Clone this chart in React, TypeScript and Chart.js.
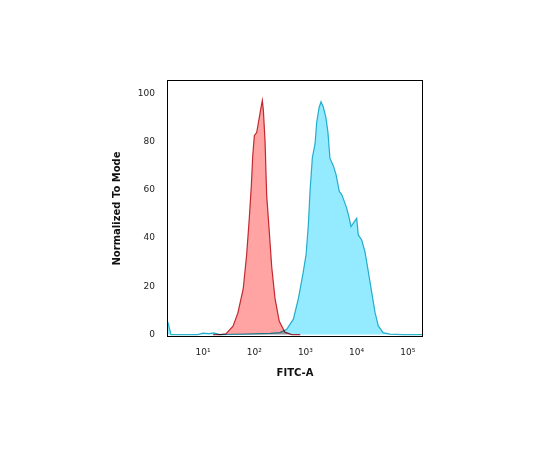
import React, { useEffect, useRef } from "react";
import { Chart, registerables } from "chart.js";

Chart.register(...registerables);

// Isotype control (red) histogram: FITC-A intensity vs normalized count
const redX = [15.8, 21.5, 28, 38.5, 48, 61, 71, 80, 88, 93.5, 100.5, 112, 121, 133, 144, 151, 163, 175, 195, 220, 255, 309, 398, 537, 794];
const redY = [0, 0, 0.3, 3.5, 9, 19, 33, 48, 62, 74, 82.4, 83.8, 88, 93, 97, 93, 80, 58, 44, 28, 15, 5.5, 1, 0, 0];

// Antibody-stained (blue) histogram
const blueX = [1.9, 2.07, 2.37, 7.9, 10, 13.1, 16.4, 21.4, 66, 204, 316, 431, 581, 726, 885, 1028, 1140, 1230, 1365, 1540, 1660, 1845, 2018, 2239, 2512, 2754, 3020, 3508, 3963, 4592, 5117, 5754, 6412, 7194, 7762, 8630, 10046, 10790, 12590, 14590, 16980, 19720, 22910, 26550, 33110, 44670, 80540, 199500];
const blueY = [6, 5, 0, 0, 0.6, 0.4, 0.7, 0, 0.2, 0.5, 0.8, 2.2, 6.4, 14.8, 24.6, 33, 45.5, 59.4, 73.4, 79, 88, 94, 96.5, 94.3, 90, 84, 73, 70, 66.4, 59.4, 58, 55.2, 52.4, 48.2, 44.8, 46.2, 48.2, 41.3, 39.2, 34.3, 26, 17.6, 9.2, 3.6, 0.8, 0.2, 0, 0];

const xTicks = [10, 100, 1000, 10000, 100000];
const xTickLabels = ["10\u00B9", "10\u00B2", "10\u00B3", "10\u2074", "10\u2075"];
const yTicks = [0, 20, 40, 60, 80, 100];

const xTitle = "FITC-A";
const yTitle = "Normalized To Mode";

const framePlugin = {
  id: "frame",
  afterDraw(chart: any) {
    const { ctx, chartArea } = chart;
    ctx.save();
    ctx.strokeStyle = "#000";
    ctx.lineWidth = 1;
    ctx.strokeRect(
      chartArea.left + 0.5,
      chartArea.top + 0.5,
      chartArea.right - chartArea.left - 1,
      chartArea.bottom - chartArea.top - 1
    );
    ctx.restore();
  },
};

const blendPlugin = {
  id: "blend",
  beforeDatasetsDraw(chart: any) {
    chart.ctx.save();
    chart.ctx.globalCompositeOperation = "multiply";
  },
  afterDatasetsDraw(chart: any) {
    chart.ctx.restore();
  },
};

export default function App() {
  const ref = useRef<HTMLCanvasElement | null>(null);

  useEffect(() => {
    if (!ref.current) return;
    const chart = new Chart(ref.current, {
      type: "line",
      data: {
        datasets: [
          {
            data: redX.map((x, i) => ({ x, y: redY[i] })),
            borderColor: "#C2303A",
            backgroundColor: "#FFA3A3",
            borderWidth: 1.2,
            fill: "origin",
            pointRadius: 0,
            tension: 0,
          },
          {
            data: blueX.map((x, i) => ({ x, y: blueY[i] })),
            borderColor: "#2CB4CC",
            backgroundColor: "#94EAFE",
            borderWidth: 1.2,
            fill: "origin",
            pointRadius: 0,
            tension: 0,
          },
        ],
      },
      options: {
        responsive: false,
        animation: false,
        devicePixelRatio: 1,
        layout: { autoPadding: false, padding: { left: 111, right: 117, top: 80, bottom: 71 } },
        plugins: { legend: { display: false }, tooltip: { enabled: false } },
        scales: {
          x: {
            type: "logarithmic",
            min: 1.98,
            max: 198000,
            grid: { display: false, drawTicks: false },
            border: { display: false },
            afterBuildTicks: (scale: any) => {
              scale.ticks = xTicks.map((v) => ({ value: v }));
            },
            afterFit: (scale: any) => {
              scale.height = 42;
            },
            ticks: {
              autoSkip: false,
              maxRotation: 0,
              padding: 10,
              color: "#222",
              font: { family: "DejaVu Sans", size: 9 },
              callback: (v: any) => {
                const i = xTicks.indexOf(Number(v));
                return i >= 0 ? xTickLabels[i] : "";
              },
            },
            title: {
              display: true,
              text: xTitle,
              color: "#111",
              padding: 0,
              font: { family: "DejaVu Sans", size: 10, weight: "bold" },
            },
          },
          y: {
            type: "linear",
            min: -1,
            max: 105.5,
            grid: { display: false, drawTicks: false },
            border: { display: false },
            afterBuildTicks: (scale: any) => {
              scale.ticks = yTicks.map((v) => ({ value: v }));
            },
            afterFit: (scale: any) => {
              scale.width = 56;
            },
            ticks: {
              padding: 12,
              color: "#222",
              font: { family: "DejaVu Sans", size: 9 },
            },
            title: {
              display: true,
              text: yTitle,
              color: "#111",
              padding: 0,
              font: { family: "DejaVu Sans", size: 10, weight: "bold" },
            },
          },
        },
      },
      plugins: [blendPlugin, framePlugin],
    });
    return () => chart.destroy();
  }, []);

  return (
    <div style={{ position: "absolute", left: 0, top: 0, width: 540, height: 450, background: "#fff" }}>
      <canvas ref={ref} width={540} height={450} />
    </div>
  );
}
